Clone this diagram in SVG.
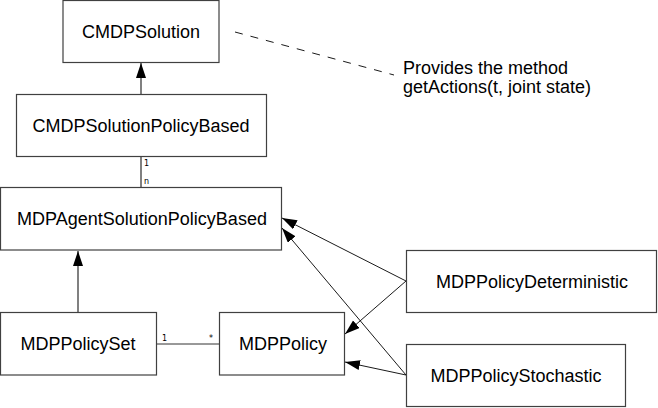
<svg xmlns="http://www.w3.org/2000/svg" width="658" height="408" viewBox="0 0 658 408">
<style>
.box{fill:#fff;stroke:#404040;stroke-width:1.2}
.lbl{font-family:"Liberation Sans",Arial,sans-serif;font-size:18px;fill:#000;text-anchor:middle}
.note{font-family:"Liberation Sans",Arial,sans-serif;font-size:18px;fill:#000}
.mult{font-family:"DejaVu Sans",sans-serif;font-size:8px;fill:#000}
.gen{stroke:#808080;stroke-width:2;fill:none}
.thin{stroke:#000;stroke-width:0.9;fill:none}
.assoc{stroke:#333;stroke-width:1;fill:none}
</style>
<defs>
<marker id="ah" markerUnits="userSpaceOnUse" markerWidth="16" markerHeight="11" refX="15" refY="5" orient="auto">
<path d="M0,0 L15,5 L0,10 z" fill="#000"/>
</marker>
</defs>
<rect width="658" height="408" fill="#fff"/>
<g id="connectors">
<line class="gen" x1="141" y1="94" x2="141" y2="63" marker-end="url(#ah)"/>
<line class="gen" x1="141" y1="156" x2="141" y2="187"/>
<line class="gen" x1="78" y1="312" x2="78" y2="251" marker-end="url(#ah)"/>
<line class="assoc" x1="156" y1="344" x2="219" y2="344"/>
<line class="thin" x1="406" y1="281" x2="282" y2="218" marker-end="url(#ah)"/>
<line class="thin" x1="406" y1="375" x2="282" y2="228" marker-end="url(#ah)"/>
<line class="thin" x1="406" y1="281" x2="345" y2="334" marker-end="url(#ah)"/>
<line class="thin" x1="406" y1="375" x2="345" y2="362" marker-end="url(#ah)"/>
<line class="thin" x1="235" y1="32" x2="394" y2="75" stroke-dasharray="8,8"/>
<text class="mult" x="144" y="166">1</text>
<text class="mult" x="144" y="184">n</text>
<text class="mult" x="162" y="341">1</text>
<text class="mult" x="209" y="341">*</text>
</g>
<g id="CMDPSolution">
<rect class="box" x="63" y="0.5" width="156" height="62"/>
<text class="lbl" x="141" y="38">CMDPSolution</text>
</g>
<g id="CMDPSolutionPolicyBased">
<rect class="box" x="16.5" y="94.5" width="250" height="62"/>
<text class="lbl" x="141" y="132">CMDPSolutionPolicyBased</text>
</g>
<g id="MDPAgentSolutionPolicyBased">
<rect class="box" x="0.5" y="187.5" width="281" height="62.5"/>
<text class="lbl" x="142" y="225">MDPAgentSolutionPolicyBased</text>
</g>
<g id="MDPPolicySet">
<rect class="box" x="0.5" y="312.5" width="156" height="62.5"/>
<text class="lbl" x="78" y="350">MDPPolicySet</text>
</g>
<g id="MDPPolicy">
<rect class="box" x="219.5" y="312.5" width="125" height="62.5"/>
<text class="lbl" x="283" y="350">MDPPolicy</text>
</g>
<g id="MDPPolicyDeterministic">
<rect class="box" x="406.5" y="250.5" width="250" height="62"/>
<text class="lbl" x="532" y="288">MDPPolicyDeterministic</text>
</g>
<g id="MDPPolicyStochastic">
<rect class="box" x="406.5" y="344.5" width="219" height="62"/>
<text class="lbl" x="516" y="382">MDPPolicyStochastic</text>
</g>
<g id="note">
<text class="note" x="403" y="74">Provides the method</text>
<text class="note" x="403" y="93">getActions(t, joint state)</text>
</g>
</svg>
